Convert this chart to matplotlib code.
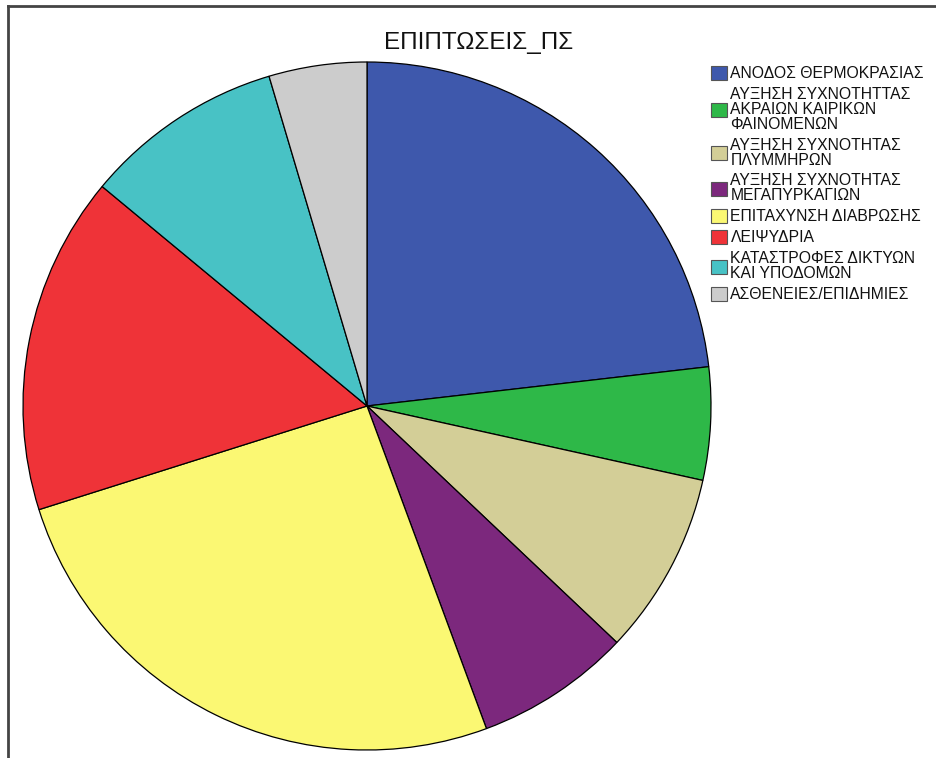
import matplotlib.pyplot as plt
from matplotlib.lines import Line2D
from matplotlib.patches import Patch

plt.rcParams['font.family'] = ['Liberation Sans', 'DejaVu Sans']

labels = ['ΑΝΟΔΟΣ ΘΕΡΜΟΚΡΑΣΙΑΣ',
          'ΑΥΞΗΣΗ ΣΥΧΝΟΤΗΤΤΑΣ\nΑΚΡΑΙΩΝ ΚΑΙΡΙΚΩΝ\nΦΑΙΝΟΜΕΝΩΝ',
          'ΑΥΞΗΣΗ ΣΥΧΝΟΤΗΤΑΣ\nΠΛΥΜΜΗΡΩΝ',
          'ΑΥΞΗΣΗ ΣΥΧΝΟΤΗΤΑΣ\nΜΕΓΑΠΥΡΚΑΓΙΩΝ',
          'ΕΠΙΤΑΧΥΝΣΗ ΔΙΑΒΡΩΣΗΣ',
          'ΛΕΙΨΥΔΡΙΑ',
          'ΚΑΤΑΣΤΡΟΦΕΣ ΔΙΚΤΥΩΝ\nΚΑΙ ΥΠΟΔΟΜΩΝ',
          'ΑΣΘΕΝΕΙΕΣ/ΕΠΙΔΗΜΙΕΣ']
values = [23.2, 5.3, 8.6, 7.3, 25.8, 15.9, 9.4, 4.6]
colors = ['#3E58AC', '#2EB848', '#D3CE97', '#7C287D',
          '#FBF873', '#EF3338', '#48C2C5', '#CCCCCC']

W, H = 937, 758
fig = plt.figure(figsize=(W / 100, H / 100), dpi=100)

# pie centred at (367, 406) px, radius 344 px
cx, cy, r = 367, 406, 344
ax = fig.add_axes([(cx - r) / W, (H - cy - r) / H, 2 * r / W, 2 * r / H])
ax.pie(values, colors=colors, startangle=90, counterclock=False,
       wedgeprops=dict(edgecolor='black', linewidth=0.9))
ax.set_xlim(-1, 1)
ax.set_ylim(-1, 1)
ax.set_aspect('equal')
ax.axis('off')
ax.patch.set_visible(False)

fig.text(479 / W, 1 - 43 / H, 'ΕΠΙΠΤΩΣΕΙΣ_ΠΣ', ha='center', va='center',
         fontsize=17.5, color='#111111')

# outer frame (left and top edges)
fig.add_artist(Line2D([8 / W, 8 / W], [0, 1 - 6 / H], transform=fig.transFigure,
                      color='#444444', linewidth=2))
fig.add_artist(Line2D([8 / W, 1], [1 - 6 / H, 1 - 6 / H], transform=fig.transFigure,
                      color='#444444', linewidth=2))

handles = [Patch(facecolor=c, edgecolor='#555555', linewidth=0.8) for c in colors]
leg = fig.legend(handles, labels, loc='upper left',
                 bbox_to_anchor=(711 / W, 1 - 66 / H), frameon=False,
                 fontsize=11.3, handlelength=1.0, handleheight=1.0,
                 handletextpad=0.24, labelspacing=0.36, borderpad=0,
                 borderaxespad=0)
for t in leg.get_texts():
    t.set_linespacing(1.0)
    t.set_color('#111111')

fig.savefig('out.png', dpi=100, facecolor='white')
